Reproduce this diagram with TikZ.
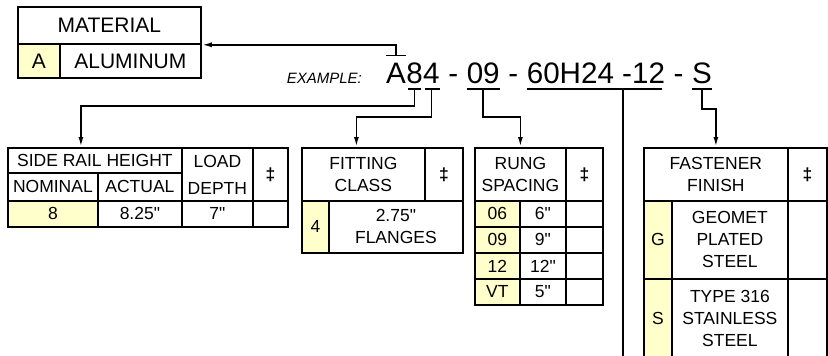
\documentclass[tikz,border=0pt]{standalone}
\usepackage{fontspec}
\newfontfamily\arial{Liberation Sans}
\usetikzlibrary{arrows.meta,positioning}
\definecolor{keyyellow}{HTML}{FFFFCC}
\newcommand{\tabfont}{\arial\fontsize{17.5}{22}\selectfont}
\newcommand{\codefont}{\arial\fontsize{29.6}{30}\selectfont}
\newcommand{\dagsym}{{\bfseries ‡}}
\tikzset{
  cell/.style={draw,line width=1.8pt,inner sep=0pt,anchor=north west,align=center,font=\tabfont},
  key/.style={cell,fill=keyyellow},
  sz/.style 2 args={minimum width=#1pt,minimum height=#2pt},
  code/.style={inner sep=0pt,anchor=base west,font=\codefont},
  lead/.style={line width=1.8pt},
  arr/.style={lead,-{Latex[length=10pt,width=5pt]}},
}
\begin{document}
\begin{tikzpicture}[x=1pt,y=-1pt]
\useasboundingbox (0,0) rectangle (828,356);
\clip (0,0) rectangle (828,356);
% material
\node[cell,sz={183}{37},font=\arial\fontsize{21}{21}\selectfont] (mat-head) at (17,6) {MATERIAL};
\node[key,sz={42}{34},font=\arial\fontsize{21}{21}\selectfont] (mat-a) at (17,43) {A};
\node[cell,sz={141}{34},font=\arial\fontsize{21}{21}\selectfont] (mat-al) at (59,43) {ALUMINUM};
% part number
\node[code] (cA) at (386,83) {A};
\node[code] (c8) at (cA.base east) {8};
\node[code] (c4) at (c8.base east) {4};
\node[code] (d1) at (c4.base east) {\kern.278em-\kern.278em};
\node[code] (c09) at (d1.base east) {09};
\node[code] (d2) at (c09.base east) {\kern.278em-\kern.278em};
\node[code] (c60) at (d2.base east) {60H24 -12};
\node[code] (d3) at (c60.base east) {\kern.278em-\kern.278em};
\node[code] (cS) at (d3.base east) {S};
\node[font=\arial\itshape\fontsize{15}{15}\selectfont,inner sep=0pt,anchor=base east] (ex) at ([xshift=-24pt]cA.base west) {EXAMPLE:};
% side rail height
\node[cell,sz={174}{25}] (sr-rail) at (7,147) {SIDE RAIL HEIGHT};
\node[cell,sz={71}{53}] (sr-load) at (181,147) {LOAD\\[5pt]DEPTH};
\node[cell,sz={35}{53}] (sr-dag) at (252,147) {\dagsym};
\node[cell,sz={90}{28}] (sr-nom) at (7,172) {NOMINAL};
\node[cell,sz={84}{28}] (sr-act) at (97,172) {ACTUAL};
\node[key,sz={90}{26}] (sr-8) at (7,200) {8};
\node[cell,sz={84}{26}] (sr-825) at (97,200) {8.25"};
\node[cell,sz={71}{26}] (sr-7) at (181,200) {7"};
\node[cell,sz={35}{26}] (sr-x) at (252,200) {};
% fitting class
\node[cell,sz={123}{53}] (fit-head) at (301,147) {FITTING\\CLASS};
\node[cell,sz={38}{53}] (fit-dag) at (424,147) {\dagsym};
\node[key,sz={27}{52}] (fit-4) at (301,200) {4};
\node[cell,sz={134}{52}] (fit-fl) at (328,200) {2.75"\\FLANGES};
% rung spacing
\node[cell,sz={91}{53}] (rung-head) at (474,147) {RUNG\\SPACING};
\node[cell,sz={37}{53}] (rung-dag) at (565,147) {\dagsym};
\foreach \c/\v [count=\i from 0] in {06/6",09/9",12/12",VT/5"}{
  \node[key,sz={45}{26}] (rung-c\i) at (474,200+26*\i) {\c};
  \node[cell,sz={46}{26}] (rung-v\i) at (519,200+26*\i) {\v};
  \node[cell,sz={37}{26}] (rung-x\i) at (565,200+26*\i) {};
}
% fastener finish
\node[cell,sz={144}{53}] (fin-head) at (643,147) {FASTENER\\FINISH};
\node[cell,sz={39}{53}] (fin-dag) at (787,147) {\dagsym};
\node[key,sz={28}{78}] (fin-g) at (643,200) {G};
\node[cell,sz={116}{78}] (fin-gt) at (671,200) {GEOMET\\PLATED\\STEEL};
\node[cell,sz={39}{78}] (fin-gx) at (787,200) {};
\node[key,sz={28}{80}] (fin-s) at (643,278) {S};
\node[cell,sz={116}{80}] (fin-st) at (671,278) {TYPE 316\\STAINLESS\\STEEL};
\node[cell,sz={39}{80}] (fin-sx) at (787,278) {};
% leaders
\coordinate (tA) at ([yshift=7pt]cA.north);
\draw[lead] ([xshift=-10pt]tA) -- ([xshift=10pt]tA);
\draw[arr] (tA) |- (mat-head.south east);
\draw[lead] ([xshift=2pt,yshift=-6pt]c8.base west) -- ([xshift=-2pt,yshift=-6pt]c8.base east);
\draw[arr] ([yshift=-6pt]c8.base) -- ++(0,17) -| ([xshift=-14pt]sr-rail.north);
\draw[lead] ([xshift=2pt,yshift=-6pt]c4.base west) -- ([yshift=-6pt]c4.base east);
\draw[arr] ([yshift=-6pt]c4.base) -- ++(0,28) -| ([xshift=-7pt]fit-head.north);
\draw[lead] ([yshift=-6pt]c09.base west) -- ([yshift=-6pt]c09.base east);
\draw[arr] ([yshift=-6pt]c09.base) -- ++(0,28) -| (rung-head.north);
\draw[lead] ([yshift=-6pt]c60.base west) -- ([xshift=-3pt,yshift=-6pt]c60.base east);
\coordinate (u60) at ([yshift=-6pt]c60.base);
\coordinate (hgt-end) at (623,356);
\draw[lead] (hgt-end |- u60) -- (hgt-end);
\draw[lead] ([yshift=-6pt]cS.base west) -- ([yshift=-6pt]cS.base east);
\draw[arr] ([yshift=-6pt]cS.base) -- ++(0,20) -| (fin-head.north);
\end{tikzpicture}
\end{document}
